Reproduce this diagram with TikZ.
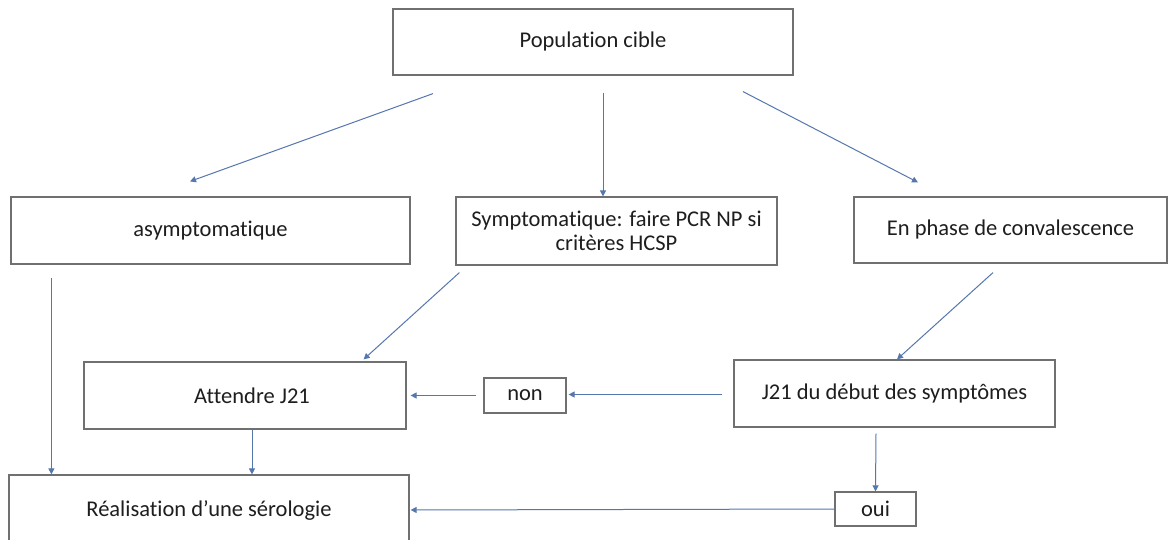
\documentclass[tikz,border=0pt]{standalone}
\usepackage{fontspec}
\setmainfont{Carlito}[Ligatures={NoCommon}]
\usetikzlibrary{arrows.meta}
\definecolor{boxline}{HTML}{707070}
\definecolor{arrowc}{HTML}{5677AE}
\definecolor{txt}{HTML}{1E1E1E}
\tikzset{
  box/.style={draw=boxline, line width=1.2pt, rectangle, inner sep=0pt,
    text=txt, font=\fontsize{22.5}{24.5}\selectfont, align=center},
  arr/.style={draw=arrowc, line width=1pt, -{Triangle[length=6pt,width=6pt]}}
}
\begin{document}
\begin{tikzpicture}[x=1pt,y=-1pt]
\clip (0,0) rectangle (1168,540);
\fill[white] (0,0) rectangle (1168,540);
\node[box, minimum width=400pt, minimum height=66pt] (pop) at (593,42) {Population cible};
\node[box, minimum width=399pt, minimum height=67pt] (asym) at (210.5,230.5) {asymptomatique};
\node[box, minimum width=321pt, minimum height=68pt] (symp) at (616.5,231) {Symptomatique: faire PCR NP si\\critères HCSP};
\node[box, minimum width=313pt, minimum height=66pt] (conv) at (1010.5,230) {En phase de convalescence};
\node[box, minimum width=322pt, minimum height=67pt] (att) at (245,395.5) {\hspace*{14pt}Attendre J21};
\node[box, minimum width=82pt, minimum height=35pt] (non) at (525,395.5) {non};
\node[box, minimum width=321pt, minimum height=67pt] (j21) at (894.5,393.5) {J21 du début des symptômes};
\node[box, minimum width=400pt, minimum height=70pt] (real) at (209,510) {Réalisation d’une sérologie};
\node[box, minimum width=81pt, minimum height=34pt] (oui) at (875.5,509) {oui};

\draw[arr] ([xshift=-160pt,yshift=-18pt]pop.south) -- ([xshift=-20.5pt,yshift=15pt]asym.north);
\draw[arr] ([xshift=10pt,yshift=-17pt]pop.south) -- ([xshift=-13.5pt]symp.north);
\draw[arr] ([xshift=150pt,yshift=-16pt]pop.south) -- ([xshift=-92.5pt,yshift=14pt]conv.north);
\draw[arr] ([xshift=4pt,yshift=-7pt]symp.south west) -- ([xshift=-43pt,yshift=2pt]att.north east);
\draw[arr] ([xshift=-17.5pt,yshift=-9pt]conv.south) -- ([xshift=2.5pt]j21.north);
\draw[arr] ([xshift=41pt,yshift=-13pt]asym.south west) -- ([xshift=43pt]real.north west);
\draw[arr] ([xshift=7pt]att.south) -- ([xshift=43pt]real.north);
\draw[arr] ([xshift=-11pt,yshift=-1pt]j21.west) -- ([xshift=2pt,yshift=1pt]non.east);
\draw[arr] ([xshift=-7pt]non.west) -- ([xshift=4pt]att.east);
\draw[arr] ([xshift=-18.5pt,yshift=-6pt]j21.south) -- (oui.north);
\draw[arr] (oui.west) -- ([xshift=1pt]real.east);
\end{tikzpicture}
\end{document}
